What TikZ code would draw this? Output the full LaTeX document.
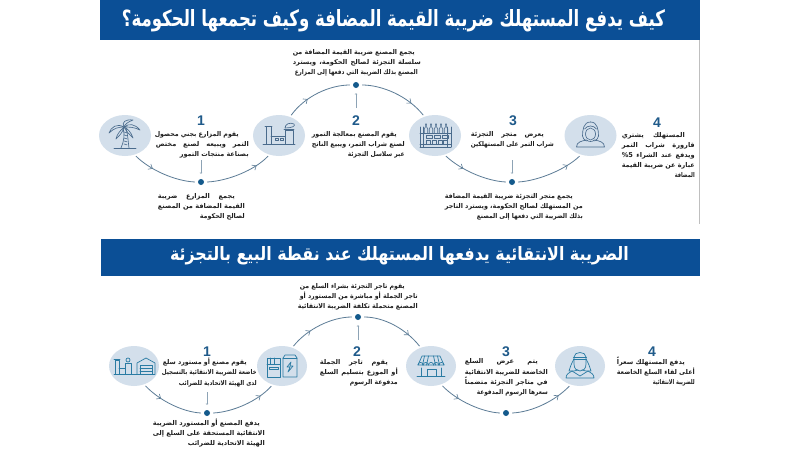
\documentclass[tikz,border=0pt]{standalone}
\usepackage{fontspec}
\usepackage{graphicx}
\usetikzlibrary{shapes.geometric,arrows.meta,decorations.markings}
\TeXXeTstate=1
\newfontfamily\arfont[Script=Arabic]{DejaVu Sans}
\setmainfont{Liberation Sans}
\definecolor{bannerblue}{HTML}{0B4F96}
\definecolor{circfill}{HTML}{D3DFEB}
\definecolor{slateline}{HTML}{4A6B8C}
\definecolor{tealline}{HTML}{2A7BA3}
\definecolor{arcline}{HTML}{5C7C96}
\definecolor{dotblue}{HTML}{145A8C}
\definecolor{numblue}{HTML}{1F5A8A}
\definecolor{txt}{HTML}{1E1E1E}
% one line of Arabic set to a given width (short lines open their word spaces, long ones are narrowed), with optional indent on its right
\newsavebox{\arbox}
\newcommand{\arln}[3][0pt]{\sbox{\arbox}{#3}\ifdim\wd\arbox<#2\relax\makebox[#2][s]{#3}\else\resizebox{#2}{\height}{\usebox{\arbox}}\fi\hspace*{#1}}
\tikzset{
  banner/.style={fill=bannerblue,draw=none,minimum height=0pt,inner sep=0pt},
  bannertext/.style={text=white,inner sep=0pt,font=\arfont\bfseries},
  disc/.style={ellipse,fill=circfill,draw=none,inner sep=0pt,outer sep=2pt,minimum width=52pt,minimum height=41pt},
  hub/.style={circle,fill=dotblue,draw=none,inner sep=0pt,minimum size=6pt},
  numlabel/.style={text=numblue,inner sep=0pt,font=\fontsize{14}{14}\selectfont\bfseries},
  artext/.style={anchor=east,inner sep=0pt,align=right,text=txt,font=\arfont\bfseries\fontsize{6.6}{10.2}\selectfont},
  arcarrow/.style={draw=arcline,line width=0.8pt,postaction={decorate},
    decoration={markings,mark=at position #1 with {\arrow{Straight Barb[length=3.5pt,width=6pt,line width=0.6pt]}}}},
  tick/.style={draw=arcline!70,line width=0.7pt,shorten >=5pt,-{To[length=1.5pt,width=2.5pt]}},
  ico/.style={draw=slateline,line width=0.65pt,line join=round,line cap=round},
  icot/.style={draw=tealline,line width=0.7pt,line join=round,line cap=round}
}
\begin{document}
\begin{tikzpicture}[x=1pt,y=-1pt]
\useasboundingbox (0,0) rectangle (800,450);
\fill[white] (0,0) rectangle (800,450);
% banners
\fill[bannerblue] (100,0) rectangle (700,40);
\fill[bannerblue] (101,238.5) rectangle (700,275.5);
\draw[black!25,line width=0.6pt] (699.5,40) -- (699.5,224);
\node[bannertext] (title1) at (393.5,20.5) {\resizebox{543pt}{17pt}{\beginR كيف يدفع المستهلك ضريبة القيمة المضافة وكيف تجمعها الحكومة؟\endR}};
\node[bannertext] (title2) at (399.5,255.5) {\resizebox{459pt}{14pt}{\beginR الضريبة الانتقائية يدفعها المستهلك عند نقطة البيع بالتجزئة\endR}};
% discs
\node[disc] (c1) at (125,135.5) {};
\node[disc] (c2) at (279,135.5) {};
\node[disc] (c3) at (435,135.5) {};
\node[disc] (c4) at (590.5,135.5) {};
\node[disc,minimum width=50pt,minimum height=40pt] (c5) at (134,366) {};
\node[disc,minimum width=50pt,minimum height=40pt] (c6) at (282,366) {};
\node[disc,minimum width=50pt,minimum height=40pt] (c7) at (431,366) {};
\node[disc,minimum width=50pt,minimum height=40pt] (c8) at (580,366) {};
% hubs
\node[hub] (d1) at (201,182) {};
\node[hub] (d2) at (356,85) {};
\node[hub] (d3) at (512,182) {};
\node[hub] (d4) at (207,413) {};
\node[hub] (d5) at (358,317) {};
\node[hub] (d6) at (506,413) {};
% arcs
\path[arcarrow=0.32] (c1.-62) .. controls (150,170) and (175,181) .. ([xshift=-3pt]d1.west);
\path[arcarrow=0.78] ([xshift=3pt]d1.east) .. controls (228,181) and (255,170) .. (c2.-118);
\path[arcarrow=0.34] (c2.59) .. controls (305,96) and (330,85) .. ([xshift=-3pt]d2.west);
\path[arcarrow=0.76] ([xshift=3pt]d2.east) .. controls (382,85) and (408,96) .. (c3.120);
\path[arcarrow=0.32] (c3.-62) .. controls (461,170) and (486,181) .. ([xshift=-3pt]d3.west);
\path[arcarrow=0.78] ([xshift=3pt]d3.east) .. controls (537,181) and (565,170) .. (c4.-118);
\path[arcarrow=0.32] (c5.-60) .. controls (160,401) and (183,412) .. ([xshift=-3pt]d4.west);
\path[arcarrow=0.78] ([xshift=3pt]d4.east) .. controls (233,412) and (258,401) .. (c6.-118);
\path[arcarrow=0.34] (c6.60) .. controls (307,329) and (332,317) .. ([xshift=-3pt]d5.west);
\path[arcarrow=0.76] ([xshift=3pt]d5.east) .. controls (384,317) and (406,329) .. (c7.120);
\path[arcarrow=0.32] (c7.-60) .. controls (457,401) and (482,412) .. ([xshift=-3pt]d6.west);
\path[arcarrow=0.78] ([xshift=3pt]d6.east) .. controls (532,412) and (555,401) .. (c8.-118);
% numbers
\node[numlabel] (n1) at (201,120.5) {1};
\node[numlabel] (n2) at (356,121) {2};
\node[numlabel] (n3) at (513,121) {3};
\node[numlabel] (n4) at (657,123) {4};
\node[numlabel] (n5) at (207,351.5) {1};
\node[numlabel] (n6) at (357,352) {2};
\node[numlabel] (n7) at (506,351.5) {3};
\node[numlabel] (n8) at (652,351.5) {4};
% ticks
\coordinate (k1) at (201,160); \draw[tick] (k1) -- (d1);
\coordinate (k2) at (356,108); \draw[tick] (k2) -- (d2);
\coordinate (k3) at (512,160); \draw[tick] (k3) -- (d3);
\coordinate (k4) at (207,392); \draw[tick] (k4) -- (d4);
\coordinate (k5) at (358,340); \draw[tick] (k5) -- (d5);
% texts, top
\node[artext] (t1) at (249,145) {\arln[10pt]{84pt}{\beginR يقوم المزارع بجني محصول\endR}\\\arln{93pt}{\beginR التمر ويبيعه لصنع مختص\endR}\\\arln{69pt}{\beginR بصناعة منتجات التمور\endR}};
\node[artext] (t1b) at (245,207) {\arln[10pt]{77pt}{\beginR يجمع المزارع ضريبة\endR}\\\arln{87pt}{\beginR القيمة المضافة من المصنع\endR}\\\arln{45pt}{\beginR لصالح الحكومة\endR}};
\node[artext] (t2u) at (421,62.5) {\arln[6pt]{122pt}{\beginR يجمع المصنع ضريبة القيمة المضافة من\endR}\\\arln{128pt}{\beginR سلسلة التجزئة لصالح الحكومة، ويسترد\endR}\\\arln[3pt]{123pt}{\beginR المصنع بذلك الضريبة التي دفعها إلى المزارع\endR}};
\node[artext] (t2) at (405,145) {\arln[8pt]{85pt}{\beginR يقوم المصنع بمعالجة التمور\endR}\\\arln{93pt}{\beginR لصنع شراب التمر، ويبيع الناتج\endR}\\\arln{57pt}{\beginR عبر سلاسل التجزئة\endR}};
\node[artext] (t3) at (554,139.5) {\arln[10pt]{73pt}{\beginR يعرض متجر التجزئة\endR}\\\arln{83pt}{\beginR شراب التمر على المستهلكين\endR}};
\node[artext] (t3b) at (583,207) {\arln[10pt]{128pt}{\beginR يجمع متجر التجزئة ضريبة القيمة المضافة\endR}\\\arln{138pt}{\beginR من المستهلك لصالح الحكومة، ويسترد التاجر\endR}\\\arln{106pt}{\beginR بذلك الضريبة التي دفعها إلى المصنع\endR}};
\node[artext] (t4) at (695,155) {\arln[10pt]{63pt}{\beginR المستهلك يشتري\endR}\\\arln{73pt}{\beginR قارورة شراب التمر\endR}\\\arln{73pt}{\beginR ويدفع عند الشراء \beginL\%5\endL\endR}\\\arln{73pt}{\beginR عبارة عن ضريبة القيمة\endR}\\\arln{20pt}{\beginR المضافة\endR}};
% texts, bottom
\node[artext] (b1) at (257,372.5) {\arln[10pt]{84pt}{\beginR يقوم مصنع أو مستورد سلع\endR}\\\arln{95pt}{\beginR خاضعة للضريبة الانتقائية بالتسجيل\endR}\\\arln{78pt}{\beginR لدى الهيئة الاتحادية للضرائب\endR}};
\node[artext] (b1b) at (265,433) {\arln[5pt]{107pt}{\beginR يدفع المصنع أو المستورد الضريبة\endR}\\\arln{112pt}{\beginR الانتقائية المستحقة على السلع إلى\endR}\\\arln{77pt}{\beginR الهيئة الاتحادية للضرائب\endR}};
\node[artext] (b2u) at (418,297) {\arln[13pt]{105pt}{\beginR يقوم تاجر التجزئة بشراء السلع من\endR}\\\arln{118pt}{\beginR تاجر الجملة أو مباشرة من المستورد أو\endR}\\\arln{120pt}{\beginR المصنع متحملة تكلفة الضريبة الانتقائية\endR}};
\node[artext] (b2) at (398,373) {\arln[10pt]{68pt}{\beginR يقوم تاجر الجملة\endR}\\\arln{78pt}{\beginR أو الموزع بتسليم السلع\endR}\\\arln{48pt}{\beginR مدفوعة الرسوم\endR}};
\node[artext] (b3) at (548,377.5) {\arln[10pt]{73pt}{\beginR يتم عرض السلع\endR}\\\arln{83pt}{\beginR الخاضعة للضريبة الانتقائية\endR}\\\arln{83pt}{\beginR في متاجر التجزئة متضمناً\endR}\\\arln{71pt}{\beginR سعرها الرسوم المدفوعة\endR}};
\node[artext] (b4) at (695,372) {\arln[10pt]{68pt}{\beginR يدفع المستهلك سعراً\endR}\\\arln{78pt}{\beginR أعلى لقاء السلع الخاضعة\endR}\\\arln{42pt}{\beginR للضريبة الانتقائية\endR}};
% icon: palm
\begin{scope}[shift={(125,135)},ico]
\draw (-2,-7) .. controls (0,0) and (-1,6) .. (-4,13);
\draw (1,-7) .. controls (3,0) and (3,6) .. (4,13);
\foreach \yy in {-3,0,3,6,9} \draw (-1,\yy) -- (2,\yy+0.8);
\draw (-11,13) -- (11,13);
\draw (-1,-8) .. controls (-8,-12) and (-14,-8) .. (-16,-2) .. controls (-11,-7) and (-6,-8) .. cycle;
\draw (-1,-8) .. controls (-5,-4) and (-8,-1) .. (-9,4) .. controls (-5,0) and (-2,-3) .. cycle;
\draw (-1,-8) .. controls (-4,-13) and (1,-16) .. (8,-15) .. controls (3,-13) and (0,-11) .. cycle;
\draw (-1,-8) .. controls (4,-12) and (10,-11) .. (15,-5) .. controls (9,-8) and (4,-8) .. cycle;
\draw (-1,-8) .. controls (3,-6) and (6,-3) .. (8,3) .. controls (4,-1) and (1,-4) .. cycle;
\end{scope}
% icon: factory
\begin{scope}[shift={(279,135)},ico]
\draw (-14,-9) -- (-7,-9) (-13,-9) rectangle (-8,9);
\draw (-8,1) -- (6,1) -- (6,9);
\draw (6,-5) rectangle (14,9) (5,-6) -- (15,-6);
\draw (-16,9) -- (16,9);
\draw (-4,3) rectangle (-1,5) (1,3) rectangle (4,5);
\draw (6,-7) .. controls (6,-11) and (11,-13) .. (15,-11) .. controls (17,-9) and (13,-7) .. cycle;
\end{scope}
% icon: bottles in a crate
\begin{scope}[shift={(435,135)},ico]
\draw (-15,-8) -- (-15,12) (-11.5,-8) -- (-11.5,12) (12.5,-8) -- (12.5,12) (16,-8) -- (16,12);
\draw (-15,-2) -- (16,-2) (-15,9) -- (16,9) (-15,12) -- (16,12);
\foreach \xx in {-9,-4,1,6,11} \draw (\xx-1.8,-2) -- (\xx-1.8,-6) -- (\xx-0.6,-8) -- (\xx-0.6,-11) -- (\xx+0.6,-11) -- (\xx+0.6,-8) -- (\xx+1.8,-6) -- (\xx+1.8,-2);
\foreach \xx in {-9,-1,7} \draw (\xx,0) rectangle (\xx+6,3);
\foreach \xx in {-9,-3,3,8} \draw (\xx,5) rectangle (\xx+4,9);
\end{scope}
% icon: woman
\begin{scope}[shift={(590.5,135)},ico]
\draw (0,-1) ellipse (5 and 6);
\draw (-6,-6) .. controls (-3,-10) and (3,-10) .. (6,-6);
\draw (0,-13) .. controls (-7,-13) and (-8,-5) .. (-8,1) .. controls (-8,3) and (-6,5) .. (-4,6);
\draw (0,-13) .. controls (7,-13) and (8,-5) .. (8,1) .. controls (8,3) and (6,5) .. (4,6);
\draw (-14,12) .. controls (-14,7) and (-9,6) .. (-4,5) .. controls (-2,7) and (2,7) .. (4,5) .. controls (9,6) and (14,7) .. (14,12) -- cycle;
\end{scope}
% icon: factory and warehouse
\begin{scope}[shift={(134,366)},icot]
\draw (-20,8) -- (21,8);
\draw (-19,-6) rectangle (-15,8) (-20,-7) -- (-14,-7);
\draw (-15,2) -- (-9,2) -- (-9,8);
\draw (-9,-3) rectangle (-3,8);
\draw (-6,-6) circle (2);
\draw (3,8) -- (3,-3) -- (12,-8) -- (21,-3) -- (21,8);
\draw (6,8) -- (6,-1) -- (18,-1) -- (18,8) (6,2) -- (18,2) (6,5) -- (18,5);
\end{scope}
% icon: carton and can
\begin{scope}[shift={(282,366)},icot]
\draw (-15,-8) rectangle (-2,11);
\draw (-15,-2) -- (-2,-2) (-12,-8) -- (-12,-2) (-8,-8) -- (-8,-2);
\draw (-13,1) rectangle (-4,3);
\draw (1,-8) -- (3,-11) -- (13,-11) -- (15,-8) -- (15,11) -- (1,11) -- cycle;
\draw (1,-8) -- (15,-8);
\draw (9,-4) -- (5,1) -- (8,1) -- (6,6) -- (11,0) -- (8,0) -- cycle;
\end{scope}
% icon: shop
\begin{scope}[shift={(431,366)},icot]
\draw (-9,-10) -- (9,-10) -- (13,-1) -- (-13,-1) -- cycle;
\foreach \xx/\yy in {-6.5/-8.5,-2.5/-4.5,2.5/4.5,6.5/8.5} \draw (\xx,-10) -- (\yy,-1);
\draw (-13,-1) arc[start angle=180,end angle=360,radius=2.6];
\foreach \xx in {-7.8,-2.6,2.6,7.8} \draw (\xx,-1) arc[start angle=180,end angle=360,radius=2.6];
\draw (-10,2) -- (-10,10) (10,2) -- (10,10);
\draw (-14,10.5) -- (14,10.5);
\draw (-4,10) -- (-4,3) -- (5,3) -- (5,10);
\end{scope}
% icon: man
\begin{scope}[shift={(580,366)},icot]
\draw (-6,-9) .. controls (-6,-15) and (6,-15) .. (6,-9) -- (6,-2) .. controls (6,3) and (3,5) .. (0,5) .. controls (-3,5) and (-6,3) .. (-6,-2) -- cycle;
\draw (-6.5,-9) -- (6.5,-9) (-6.5,-7) -- (6.5,-7);
\draw (-6,-7) .. controls (-9,-2) and (-10,2) .. (-11,5) -- (-6,5) -- (-2,4);
\draw (6,-7) .. controls (9,-2) and (10,2) .. (11,5) -- (6,5) -- (2,4);
\draw (-14,12) .. controls (-14,8) and (-11,7) .. (-8,5) -- (0,10) -- (8,5) .. controls (11,7) and (14,8) .. (14,12) -- cycle;
\end{scope}
\end{tikzpicture}
\end{document}
